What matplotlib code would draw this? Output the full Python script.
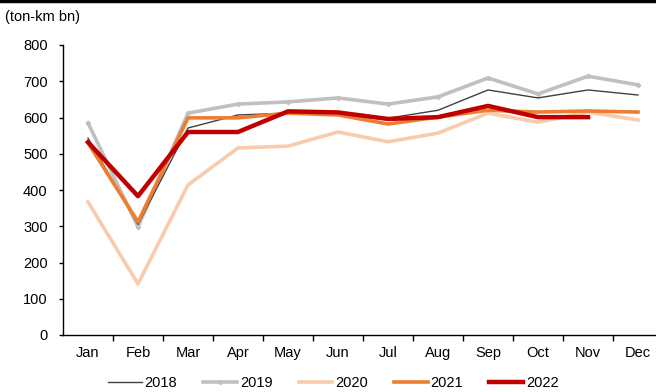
import matplotlib.pyplot as plt
from matplotlib.lines import Line2D
import numpy as np

months = ["Jan", "Feb", "Mar", "Apr", "May", "Jun",
          "Jul", "Aug", "Sep", "Oct", "Nov", "Dec"]

y2018 = [543, 305, 571, 607, 612, 615, 598, 620, 676, 654, 676, 662]
y2019 = [585, 298, 612, 637, 643, 654, 637, 657, 709, 665, 714, 690]
y2020 = [367, 141, 414, 516, 521, 560, 533, 557, 612, 587, 615, 593]
y2021 = [530, 312, 599, 599, 612, 607, 582, 601, 620, 615, 618, 615]
y2022 = [532, 383, 560, 560, 617, 614, 596, 601, 632, 601, 601]

yticks = [0, 100, 200, 300, 400, 500, 600, 700, 800]

plt.rcParams["font.family"] = ["Liberation Sans", "DejaVu Sans"]
plt.rcParams["font.size"] = 10.5

fig = plt.figure(figsize=(6.56, 3.92), dpi=100)
ax = fig.add_axes([63 / 656, 1 - 335 / 392, 600 / 656, 290 / 392])

x = np.arange(len(months))
ax.plot(x, y2018, color="#404040", lw=1.0, label="2018", zorder=3)
ax.plot(x, y2019, color="#c0c0c0", lw=2.6, marker="D", markersize=2.2,
        label="2019", zorder=2)
ax.plot(x, y2020, color="#f8cbad", lw=2.6, label="2020", zorder=2)
ax.plot(x, y2021, color="#ed7d31", lw=2.6, label="2021", zorder=4)
ax.plot(x[:len(y2022)], y2022, color="#c00000", lw=3.2, label="2022", zorder=5)

ax.set_xlim(-0.5, 11.5)
ax.set_ylim(0, 800)
ax.set_yticks(yticks)
ax.set_xticks(x)
ax.set_xticklabels(months)
ax.set_xticks(np.arange(0.5, 11.5, 1), minor=True)
ax.tick_params(axis="x", which="major", length=0, pad=8)
ax.tick_params(axis="x", which="minor", length=4, width=1, direction="out")
ax.tick_params(axis="y", length=3, width=1, direction="out", pad=8)

for s in ["top", "right"]:
    ax.spines[s].set_visible(False)
for s in ["left", "bottom"]:
    ax.spines[s].set_linewidth(1)
    ax.spines[s].set_color("black")

fig.text(5 / 656, 1 - 17 / 392, "(ton-km bn)", fontsize=10.5, va="center")

# thick line across the top
fig.add_artist(Line2D([0, 1], [0.998, 0.998], color="black", lw=2.5,
                      transform=fig.transFigure))

fig.legend(loc="center", bbox_to_anchor=(0.508, 1 - 383 / 392), ncol=5,
           frameon=False, handlelength=2.3, columnspacing=1.8,
           handletextpad=0.2, fontsize=10.5)

fig.savefig("out.png", dpi=100)
